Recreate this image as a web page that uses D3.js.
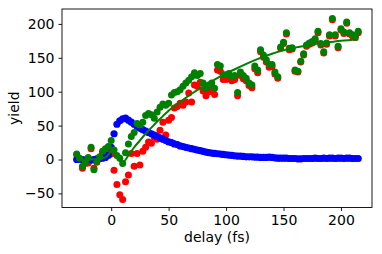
<!DOCTYPE html>
<html>
<head>
<meta charset="utf-8">
<script src="https://cdn.jsdelivr.net/npm/d3@7"></script>
<style>
  body { margin: 0; background: #fff; }
  text { font-family: "DejaVu Sans", sans-serif; }
</style>
</head>
<body>
<svg id="chart" width="382" height="254"></svg>
<script>
// delay axis (fs), sample step 2.5
var delay = [-30, -27.5, -25, -22.5, -20, -17.5, -15, -12.5, -10, -7.5, -5, -2.5,
    0, 2.5, 5, 7.5, 10, 12.5, 15, 17.5, 20, 22.5, 25, 27.5, 30, 32.5, 35, 37.5,
    40, 42.5, 45, 47.5, 50, 52.5, 55, 57.5, 60, 62.5, 65, 67.5, 70, 72.5, 75, 77.5,
    80, 82.5, 85, 87.5, 90, 92.5, 95, 97.5, 100, 102.5, 105, 107.5, 110, 112.5, 115, 117.5,
    120, 122.5, 125, 127.5, 130, 132.5, 135, 137.5, 140, 142.5, 145, 147.5, 150, 152.5, 155, 157.5,
    160, 162.5, 165, 167.5, 170, 172.5, 175, 177.5, 180, 182.5, 185, 187.5, 190, 192.5, 195, 197.5,
    200, 202.5, 205, 207.5, 210, 212.5, 215];

var yieldRed = [7, 0, -13, -6, -5, 16, -13, -4, 2, 10, 12, 11,
    8, -16, -37, -52, -59, -33, -23, 9, -10, 9, -8, 12, 18, 26, 24, 33,
    30, 43, 55, 36, 58, 62, 76, 78, 83, 80, 85, 98, 85, 110, 108, 114,
    101, 94, 100, 104, 96, 132, 130, 118, 118, 120, 116, 118, 94, 124, 119, 116,
    109, 106, 134, 128, 159, 151, 144, 136, 137, 126, 120, 164, 171, 185, 162, 163,
    130, 129, 144, 154, 167, 170, 172, 176, 187, 169, 157, 170, 182, 206, 182, 165,
    191, 186, 201, 185, 182, 180, 187];

var yieldBlue = [0, 1, 0, -1, 0, -1, 0, 1, 2, 2, 3, 6,
    18, 38, 52, 57, 60, 61, 58, 55, 52, 49, 46, 44, 42, 40, 38, 36,
    34, 32, 30, 28, 26, 25, 23, 22, 20, 19, 18, 17, 16, 15, 14, 13,
    12, 11, 10, 9.5, 9, 8.5, 8, 7.5, 7, 6.5, 6, 5.5, 5, 5, 4.5, 4,
    4, 4, 3.5, 3.5, 3, 3, 3, 3.5, 3, 2.5, 2, 2, 2, 2, 1.5, 1.5,
    1.5, 1, 1, 1.5, 1.5, 1.5, 1.5, 2, 1.5, 1.5, 2, 1.5, 2, 2, 1.5, 2,
    2, 1.5, 2, 2, 1.5, 1.5, 1.5];

var yieldGreen = [8, 2, -10, -4, 3, 18, -15, -3, 4, 12, 16, 19,
    28, 14, 6, 2, -6, 10, 23, 34, 40, 53, 51, 55, 65, 68, 66, 61,
    70, 77, 82, 80, 83, 95, 99, 100, 103, 108, 113, 117, 122, 128, 124, 127,
    113, 105, 110, 113, 105, 140, 138, 125, 125, 127, 122, 124, 99, 129, 124, 120,
    113, 110, 138, 132, 162, 154, 147, 140, 140, 129, 122, 166, 173, 187, 164, 165,
    132, 130, 145, 156, 169, 172, 174, 178, 189, 171, 159, 172, 184, 208, 184, 167,
    193, 188, 203, 187, 184, 182, 189];

// fitted curve for the green series
var fitDelay = [-30, -20, -10, -5, -2, 0, 2.5, 5, 7.5, 10, 15, 20, 25, 30, 35, 40, 45, 50,
    60, 70, 80, 90, 100, 110, 120, 130, 140, 150, 160, 170, 180, 190, 200, 215];
var fitYield = [0, 0, 1, 3, 8, 13, 10, 4, -2, -4, 6, 18, 28, 38, 47, 56, 64, 72,
    85, 97, 108, 118, 127, 135, 143, 150, 156, 161, 165, 168, 171, 173, 175, 177];

var xTicks = [0, 50, 100, 150, 200];
var yTicks = [-50, 0, 50, 100, 150, 200];

var svg = d3.select("#chart");
var frame = { left: 62, right: 372, top: 9, bottom: 207.5 };

var x = d3.scaleLinear().domain([-42.8, 227]).range([frame.left, frame.right]);
var y = d3.scaleLinear().domain([-70.8, 222]).range([frame.bottom, frame.top]);

var plot = svg.append("g");

function dots(values, color, r) {
    plot.append("g").selectAll("circle")
        .data(delay)
        .enter().append("circle")
        .attr("cx", function(d) { return x(d); })
        .attr("cy", function(d, i) { return y(values[i]); })
        .attr("r", r)
        .attr("fill", color);
}

dots(yieldRed, "#ff0000", 3.5);
dots(yieldBlue, "#0000ff", 3.6);
dots(yieldGreen, "#008000", 3.5);

var line = d3.line()
    .x(function(d) { return x(d); })
    .y(function(d, i) { return y(fitYield[i]); })
    .curve(d3.curveMonotoneX);

plot.append("path")
    .datum(fitDelay)
    .attr("d", line)
    .attr("fill", "none")
    .attr("stroke", "#008000")
    .attr("stroke-width", 2);

// axes
var xAxis = svg.append("g")
    .attr("transform", "translate(0," + frame.bottom + ")")
    .call(d3.axisBottom(x).tickValues(xTicks).tickSize(3.5).tickPadding(4).tickSizeOuter(0));
var yAxis = svg.append("g")
    .attr("transform", "translate(" + frame.left + ",0)")
    .call(d3.axisLeft(y).tickValues(yTicks).tickSize(3.5).tickPadding(4).tickSizeOuter(0)
        .tickFormat(function(d) { return d < 0 ? "\u2212" + Math.abs(d) : d; }));

[xAxis, yAxis].forEach(function(a) {
    a.attr("font-size", null).attr("font-family", null);
    a.select(".domain").remove();
    a.selectAll("text")
        .style("font-family", "DejaVu Sans")
        .style("font-size", "14px")
        .attr("fill", "#000");
    a.selectAll("line").attr("stroke", "#000").attr("stroke-width", 0.9);
});

svg.append("rect")
    .attr("x", frame.left)
    .attr("y", frame.top)
    .attr("width", frame.right - frame.left)
    .attr("height", frame.bottom - frame.top)
    .attr("fill", "none")
    .attr("stroke", "#000")
    .attr("stroke-width", 0.9);

svg.append("text")
    .attr("x", (frame.left + frame.right) / 2)
    .attr("y", 242)
    .attr("text-anchor", "middle")
    .style("font-size", "14px")
    .text("delay (fs)");

svg.append("text")
    .attr("transform", "translate(18.5," + (frame.top + frame.bottom) / 2 + ") rotate(-90)")
    .attr("text-anchor", "middle")
    .style("font-size", "14px")
    .text("yield");
</script>
</body>
</html>
